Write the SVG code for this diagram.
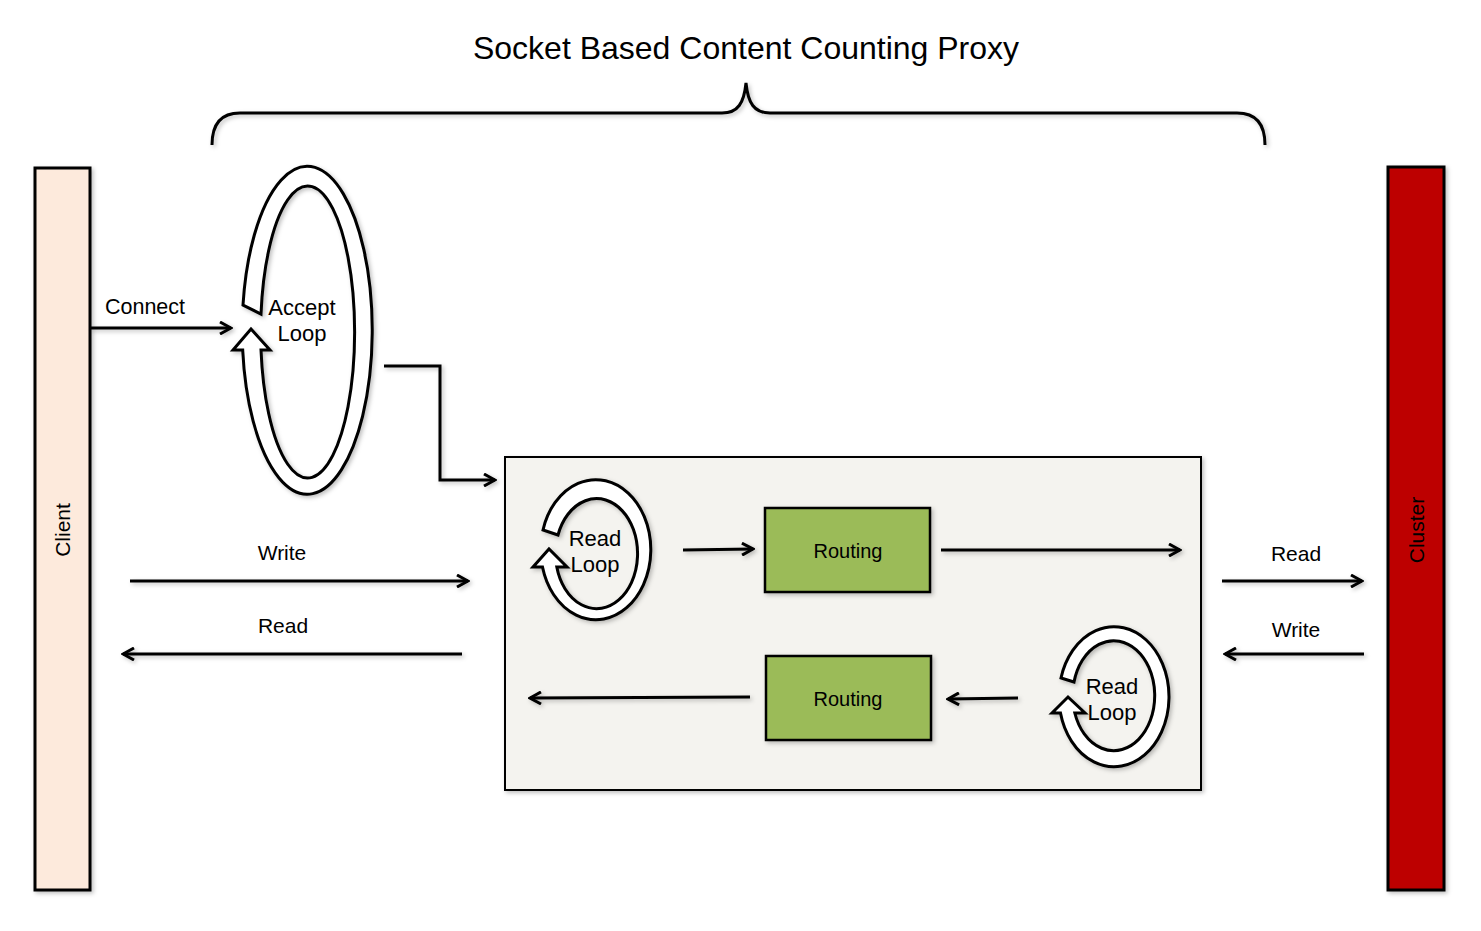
<svg xmlns="http://www.w3.org/2000/svg" width="1481" height="931" viewBox="0 0 1481 931">
<defs>
<style>
.t{font-family:"Liberation Sans",Arial,sans-serif;fill:#000;text-anchor:middle}
.ln{fill:none;stroke:#000;stroke-width:3}
.ring{fill:#fff;stroke:#000;stroke-width:3;stroke-linejoin:miter}
</style>
<marker id="ah" viewBox="0 0 14 14" markerWidth="14" markerHeight="14" refX="12" refY="7" orient="auto" markerUnits="userSpaceOnUse">
<path d="M1,1 L12,7 L1,13" fill="none" stroke="#000" stroke-width="3"/>
</marker>
<filter id="sh" x="-10%" y="-10%" width="130%" height="130%">
<feDropShadow dx="2" dy="2" stdDeviation="2" flood-color="#000" flood-opacity="0.25"/>
</filter>
</defs>
<rect width="1481" height="931" fill="#fff"/>
<text class="t" x="746" y="59" font-size="32">Socket Based Content Counting Proxy</text>
<path d="M212,145 C212,125 220,113 240,113 L722,113 C738,113 744,103 746,83 C748,103 754,113 770,113 L1237,113 C1257,113 1265,125 1265,145" class="ln" filter="url(#sh)"/>

<g id="client">
<rect x="35" y="168" width="55" height="722" fill="#fdeadc" stroke="#000" stroke-width="3" filter="url(#sh)"/>
<text class="t" font-size="21" transform="translate(70,530) rotate(-90)">Client</text>
</g>
<g id="cluster">
<rect x="1388" y="167" width="56" height="723" fill="#bd0000" stroke="#000" stroke-width="3" filter="url(#sh)"/>
<text class="t" font-size="21" transform="translate(1424,530) rotate(-90)">Cluster</text>
</g>

<g id="accept-loop">
<path class="ring" filter="url(#sh)" d="M243,305 A65 164 0 1 1 242.7,350 L233,350 L251,329 L270,350 L261,350 A47 146 0 1 0 261,314 Z"/>
<text class="t" x="302" y="315" font-size="22">Accept</text>
<text class="t" x="302" y="341" font-size="22">Loop</text>
</g>

<g id="proxy">
<rect x="505" y="457" width="696" height="333" fill="#f4f3ef" stroke="#000" stroke-width="2" filter="url(#sh)"/>
</g>

<g id="read-loop-1">
<path class="ring" filter="url(#sh)" d="M543,530 A55 70 0 1 1 542.5,567 L533,567 L549,549 L567,567 L556.8,567 A41 55 0 1 0 558,535 Z"/>
<text class="t" x="595" y="546" font-size="22">Read</text>
<text class="t" x="595" y="572" font-size="22">Loop</text>
</g>

<g id="read-loop-2">
<path class="ring" filter="url(#sh)" d="M1061,678 A55 70 0 1 1 1060.5,713 L1052,713 L1068,697 L1085,713 L1074.8,713 A41 55 0 1 0 1074,682 Z"/>
<text class="t" x="1112" y="694" font-size="22">Read</text>
<text class="t" x="1112" y="720" font-size="22">Loop</text>
</g>

<g id="routing-1">
<rect x="765" y="508" width="165" height="84" fill="#9bbb59" stroke="#000" stroke-width="2.5" filter="url(#sh)"/>
<text class="t" x="848" y="558" font-size="20">Routing</text>
</g>
<g id="routing-2">
<rect x="766" y="656" width="165" height="84" fill="#9bbb59" stroke="#000" stroke-width="2.5" filter="url(#sh)"/>
<text class="t" x="848" y="706" font-size="20">Routing</text>
</g>

<g id="connectors" filter="url(#sh)">
<path class="ln" d="M90,328 L231,328" marker-end="url(#ah)"/>
<path class="ln" stroke-width="4" d="M384,366 L440,366 L440,480 L495,480" marker-end="url(#ah)"/>
<path class="ln" d="M130,581 L468,581" marker-end="url(#ah)"/>
<path class="ln" d="M462,654 L123,654" marker-end="url(#ah)"/>
<path class="ln" d="M683,550 L753,549" marker-end="url(#ah)"/>
<path class="ln" d="M941,550 L1180,550" marker-end="url(#ah)"/>
<path class="ln" d="M1018,698 L948,699" marker-end="url(#ah)"/>
<path class="ln" d="M750,697 L530,698" marker-end="url(#ah)"/>
<path class="ln" d="M1222,581 L1362,581" marker-end="url(#ah)"/>
<path class="ln" d="M1364,654 L1225,654" marker-end="url(#ah)"/>
</g>
<text class="t" x="145" y="314" font-size="21.5">Connect</text>
<text class="t" x="282" y="560" font-size="21">Write</text>
<text class="t" x="283" y="633" font-size="21">Read</text>
<text class="t" x="1296" y="561" font-size="21">Read</text>
<text class="t" x="1296" y="637" font-size="21">Write</text>
</svg>
